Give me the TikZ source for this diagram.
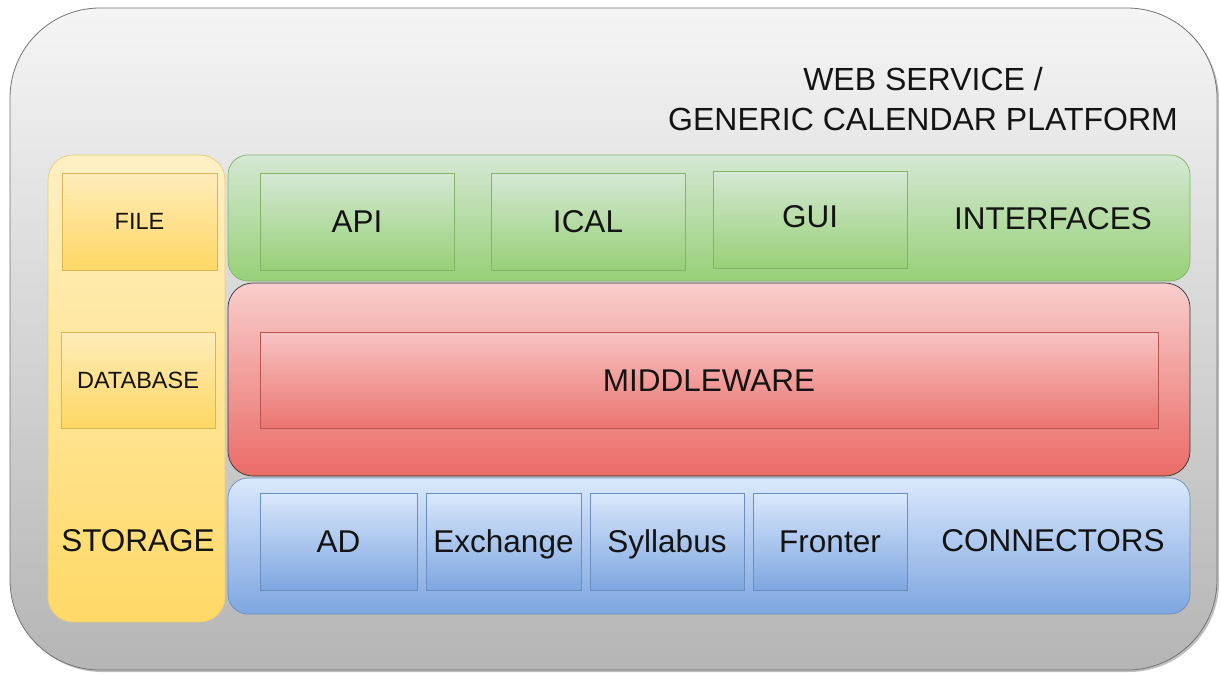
\documentclass[tikz,border=0pt]{standalone}
\usepackage{fontspec}
\setmainfont{Liberation Sans}
\usetikzlibrary{shadows}
\begin{document}
\begin{tikzpicture}[x=1pt,y=-1pt,
  outerbox/.style={draw=black!55, line width=0.8pt, rounded corners=90pt, inner sep=0pt,
    top color=black!4, bottom color=black!29,
    drop shadow={shadow xshift=2pt, shadow yshift=-2pt, opacity=0.25, fill=black}},
  layer/.style={line width=0.7pt, rounded corners=20pt, inner sep=0pt},
  box/.style={line width=0.6pt, inner sep=0pt},
  yel/.style={draw={rgb,255:red,232;green,204;blue,120}, top color={rgb,255:red,255;green,240;blue,196}, bottom color={rgb,255:red,255;green,217;blue,102}},
  yelbox/.style={draw={rgb,255:red,214;green,182;blue,86}, top color={rgb,255:red,255;green,236;blue,186}, bottom color={rgb,255:red,255;green,215;blue,100}},
  grn/.style={draw={rgb,255:red,130;green,179;blue,102}, top color={rgb,255:red,213;green,232;blue,212}, bottom color={rgb,255:red,151;green,208;blue,119}},
  red/.style={draw=black!80, top color={rgb,255:red,248;green,206;blue,204}, bottom color={rgb,255:red,234;green,107;blue,102}},
  redbox/.style={draw={rgb,255:red,184;green,84;blue,80}, top color={rgb,255:red,248;green,196;blue,194}, bottom color={rgb,255:red,235;green,116;blue,112}},
  blu/.style={draw={rgb,255:red,108;green,142;blue,191}, top color={rgb,255:red,218;green,232;blue,252}, bottom color={rgb,255:red,126;green,166;blue,224}},
  big/.style={font=\fontsize{31.5}{40}\selectfont, text=black!92, text height=22.6pt, text depth=0pt},
  small/.style={font=\fontsize{23.5}{28}\selectfont, text=black!92, text height=16.9pt, text depth=0pt},
  lbl/.style={big, inner sep=0pt}
]
\useasboundingbox (0,0) rectangle (1220,673);
% outer platform
\node[outerbox, minimum width=1207pt, minimum height=662pt] (platform) at (613.5,339) {};
\node[font=\fontsize{32}{40}\selectfont, text=black!92, align=center] (title) at (923,99) {WEB SERVICE /\\GENERIC CALENDAR PLATFORM};
% storage column
\node[layer, yel, rounded corners=25pt, minimum width=177pt, minimum height=467pt] (storage) at (136.5,388.5) {};
\node[box, yelbox, minimum width=155pt, minimum height=97pt, small] (file) at (139.5,221.5) {FILE};
\node[box, yelbox, minimum width=154pt, minimum height=96pt, small] (database) at (138,380) {DATABASE};
\node[lbl] (storagelabel) at (138,540) {STORAGE};
% interfaces layer
\node[layer, grn, minimum width=962pt, minimum height=126pt] (interfaces) at (709,218) {};
\node[box, grn, minimum width=194pt, minimum height=97pt, big] (api) at (357,221.5) {API};
\node[box, grn, minimum width=194pt, minimum height=97pt, big] (ical) at (588,221.5) {ICAL};
\node[box, grn, minimum width=194pt, minimum height=97pt] (gui) at (810,219.5) {};
\node[lbl] at (810,216) {GUI};
\node[lbl] (interfaceslabel) at (1053,218) {INTERFACES};
% middleware layer
\node[layer, red, rounded corners=25pt, minimum width=962pt, minimum height=193pt] (middlewarelayer) at (709,379.5) {};
\node[box, redbox, minimum width=898pt, minimum height=96pt, big] (middleware) at (709,380) {MIDDLEWARE};
% connectors layer
\node[layer, blu, minimum width=962pt, minimum height=136pt] (connectors) at (709,546) {};
\node[box, blu, minimum width=157pt, minimum height=97pt, big] (ad) at (338.5,541.5) {AD};
\node[box, blu, minimum width=155pt, minimum height=97pt, big] (exchange) at (503.5,541.5) {Exchange};
\node[box, blu, minimum width=154pt, minimum height=97pt, big] (syllabus) at (667,541.5) {Syllabus};
\node[box, blu, minimum width=154pt, minimum height=97pt, big] (fronter) at (830,541.5) {Fronter};
\node[lbl] (connectorslabel) at (1053,540) {CONNECTORS};
\end{tikzpicture}
\end{document}
